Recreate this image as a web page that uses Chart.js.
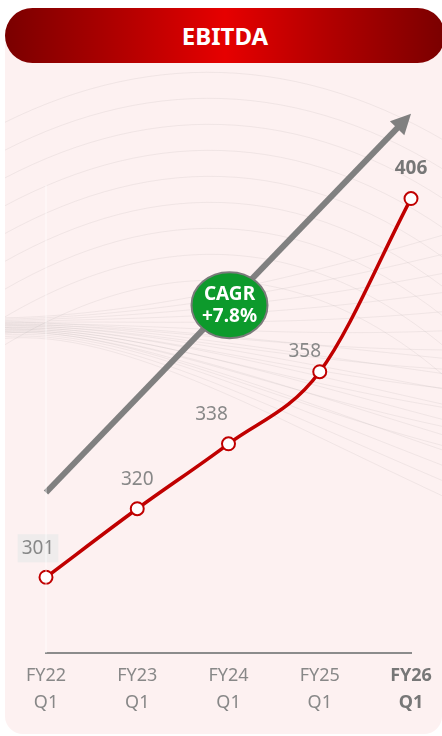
<!DOCTYPE html>
<html>
<head>
<meta charset="utf-8">
<script src="https://cdn.jsdelivr.net/npm/chart.js@4"></script>
<style>
    body { margin: 0; width: 442px; height: 736px; background: #fff; overflow: hidden; position: relative; font-family: "Noto Sans", sans-serif; }
    .panel { position: absolute; left: 5px; top: 30px; width: 437px; height: 704px; background: #fdf1f1; border-radius: 0 0 18px 18px; }
    .header {
        position: absolute; left: 5px; top: 8px; width: 440px; height: 55px; border-radius: 28px;
        background: linear-gradient(90deg, #7a0000 0%, #b50000 28%, #e60000 50%, #b50000 72%, #7a0000 100%);
        color: #fff; font-weight: bold; font-size: 24px; text-align: center; line-height: 55px; z-index: 2;
    }
    #chart { position: absolute; left: 0; top: 0; z-index: 1; }
</style>
</head>
<body>
<div class="panel"></div>
<div class="header">EBITDA</div>
<canvas id="chart" width="442" height="736"></canvas>
<script>
// data
const fiscalYears = ['FY22', 'FY23', 'FY24', 'FY25', 'FY26'];
const quarters = ['Q1', 'Q1', 'Q1', 'Q1', 'Q1'];
const ebitda = [301, 320, 338, 358, 406];
const cagrText = ['CAGR', '+7.8%'];
// trend arrow runs from first to last category, in value units
const trendFrom = 324.5;
const trendTo = 429.5;

const RED = '#c00000';
const GREY = '#888888';

// faint wavy lines in the background
const wavesPlugin = {
    id: 'waves',
    beforeDraw(chart) {
        const ctx = chart.ctx;
        ctx.save();
        ctx.beginPath();
        ctx.rect(5, 63, 437, 600);
        ctx.clip();
        ctx.lineWidth = 1;
        ctx.strokeStyle = 'rgba(170,160,160,0.15)';
        // soft arcs in the upper half
        for (let i = 0; i < 9; i++) {
            ctx.beginPath();
            ctx.moveTo(-10, 130 + i * 28);
            ctx.bezierCurveTo(140, 50 + i * 26, 300, 50 + i * 24, 460, 150 + i * 30);
            ctx.stroke();
        }
        // bundle near the left, fanning out to the right
        for (let i = 0; i < 12; i++) {
            ctx.beginPath();
            ctx.moveTo(-10, 318 + i * 1.5);
            ctx.bezierCurveTo(110, 318, 260, 290 + i * 10, 460, 230 + i * 20);
            ctx.stroke();
        }
        for (let i = 0; i < 10; i++) {
            ctx.beginPath();
            ctx.moveTo(-10, 322 + i * 2);
            ctx.bezierCurveTo(110, 322, 260, 340 + i * 8, 460, 360 + i * 16);
            ctx.stroke();
        }
        ctx.restore();
    }
};

// CAGR arrow and badge
const trendPlugin = {
    id: 'trend',
    beforeDatasetsDraw(chart) {
        const ctx = chart.ctx;
        const x = chart.scales.x, y = chart.scales.y;
        const x0 = x.getPixelForValue(0), y0 = y.getPixelForValue(trendFrom);
        const x1 = x.getPixelForValue(ebitda.length - 1), y1 = y.getPixelForValue(trendTo);
        const ang = Math.atan2(y1 - y0, x1 - x0);
        const head = 20;
        ctx.save();
        ctx.strokeStyle = '#808080';
        ctx.fillStyle = '#808080';
        ctx.lineWidth = 6;
        ctx.beginPath();
        ctx.moveTo(x0, y0);
        ctx.lineTo(x1 - Math.cos(ang) * head * 0.8, y1 - Math.sin(ang) * head * 0.8);
        ctx.stroke();
        ctx.beginPath();
        ctx.moveTo(x1, y1);
        ctx.lineTo(x1 - Math.cos(ang) * head + Math.sin(ang) * 10, y1 - Math.sin(ang) * head - Math.cos(ang) * 10);
        ctx.lineTo(x1 - Math.cos(ang) * head - Math.sin(ang) * 10, y1 - Math.sin(ang) * head + Math.cos(ang) * 10);
        ctx.closePath();
        ctx.fill();

        // badge at the middle of the arrow
        const cx = (x0 + x1) / 2 + 1, cy = (y0 + y1) / 2 + 2;
        ctx.beginPath();
        ctx.ellipse(cx, cy, 38, 33, 0, 0, Math.PI * 2);
        ctx.fillStyle = '#0d9a2c';
        ctx.fill();
        ctx.lineWidth = 2;
        ctx.strokeStyle = '#7a7a7a';
        ctx.stroke();
        ctx.fillStyle = '#fff';
        ctx.font = 'bold 19px "Noto Sans"';
        ctx.textAlign = 'center';
        ctx.textBaseline = 'middle';
        ctx.fillText(cagrText[0], cx, cy - 11);
        ctx.fillText(cagrText[1], cx, cy + 11);
        ctx.restore();
    },
    afterDraw(chart) {
        // faint y axis line
        const ctx = chart.ctx;
        const a = chart.chartArea;
        ctx.save();
        ctx.strokeStyle = 'rgba(255,255,255,0.7)';
        ctx.lineWidth = 1;
        ctx.beginPath();
        ctx.moveTo(a.left, 185);
        ctx.lineTo(a.left, a.bottom);
        ctx.stroke();
        ctx.restore();
    }
};

// value labels over the points
const labelOffsets = [[-8, -29], [0, -29], [-17, -29], [-15, -20], [0, -30]];
const valueLabels = {
    id: 'valueLabels',
    afterDatasetsDraw(chart) {
        const ctx = chart.ctx;
        const meta = chart.getDatasetMeta(0);
        ctx.save();
        ctx.textAlign = 'center';
        ctx.textBaseline = 'middle';
        meta.data.forEach((pt, i) => {
            const last = i === ebitda.length - 1;
            const tx = pt.x + labelOffsets[i][0];
            const ty = pt.y + labelOffsets[i][1];
            ctx.font = (last ? 'bold ' : '') + '19px "Noto Sans"';
            if (i === 0) {
                const w = ctx.measureText(String(ebitda[i])).width + 8;
                ctx.fillStyle = 'rgba(235,235,235,0.8)';
                ctx.fillRect(tx - w / 2, ty - 14, w, 28);
            }
            ctx.fillStyle = last ? '#777' : GREY;
            ctx.fillText(String(ebitda[i]), tx, ty);
        });
        ctx.restore();
    }
};

new Chart(document.getElementById('chart').getContext('2d'), {
    type: 'line',
    data: {
        labels: fiscalYears.map((fy, i) => [fy, quarters[i]]),
        datasets: [{
            data: ebitda,
            borderColor: RED,
            borderWidth: 3.5,
            cubicInterpolationMode: 'monotone',
            pointRadius: 6.5,
            pointBorderWidth: 2,
            pointBackgroundColor: '#fff',
            pointBorderColor: RED,
            fill: false
        }]
    },
    options: {
        responsive: false,
        animation: false,
        layout: { padding: { left: 46, right: 31, top: 112, bottom: 11 } },
        plugins: {
            legend: { display: false },
            tooltip: { enabled: false }
        },
        scales: {
            x: {
                offset: false,
                grid: { display: false, drawTicks: false },
                border: { color: '#8c8c8c', width: 2 },
                ticks: {
                    padding: 9,
                    color: ctx => ctx.index === 4 ? '#777' : GREY,
                    font: ctx => ({
                        family: '"Noto Sans"',
                        size: 18,
                        lineHeight: 1.5,
                        weight: ctx.index === 4 ? 'bold' : 'normal'
                    })
                }
            },
            y: {
                display: false,
                min: 280,
                max: 430
            }
        }
    },
    plugins: [wavesPlugin, trendPlugin, valueLabels]
});
</script>
</body>
</html>
